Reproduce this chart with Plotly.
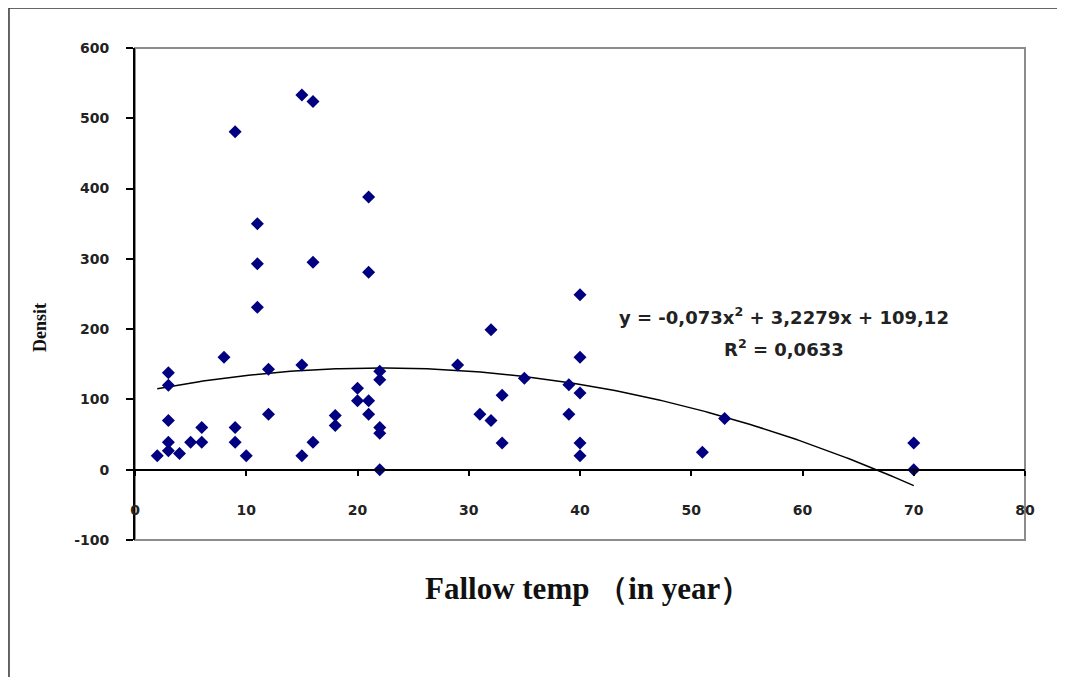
import numpy as np
import plotly.graph_objects as go

# Data
fallow_years = [2, 3, 3, 3, 3, 3, 4, 5, 6, 6, 8, 9, 9, 9, 10, 11, 11, 11, 12, 12,
                15, 15, 15, 16, 16, 16, 18, 18, 20, 20, 21, 21, 21, 21, 22, 22, 22, 22, 22,
                29, 31, 32, 32, 33, 33, 35, 39, 39, 40, 40, 40, 40, 40, 51, 53, 70, 70]
density = [20, 138, 120, 70, 39, 27, 23, 39, 60, 39, 160, 481, 60, 39, 20, 350, 293, 231, 143, 79,
           533, 149, 20, 524, 295, 39, 77, 63, 116, 98, 388, 281, 98, 79, 140, 128, 60, 52, 0,
           149, 79, 199, 70, 106, 38, 130, 121, 79, 249, 160, 109, 38, 20, 25, 73, 38, 0]

# Polynomial trendline coefficients as printed on the chart
trend_coeffs = [-0.073, 3.2279, 109.12]
r_squared_text = "0,0633"

x_ticks = [0, 10, 20, 30, 40, 50, 60, 70, 80]
y_ticks = [-100, 0, 100, 200, 300, 400, 500, 600]
y_tick_labels = ["-100", "0", "100", "200", "300", "400", "500", "600"]

trend_x = np.linspace(min(fallow_years), max(fallow_years), 200)
trend_y = np.polyval(trend_coeffs, trend_x)

fig = go.Figure()
fig.add_trace(go.Scatter(
    x=trend_x, y=trend_y, mode="lines",
    line=dict(color="black", width=1.5), hoverinfo="skip", showlegend=False))
fig.add_trace(go.Scatter(
    x=fallow_years, y=density, mode="markers",
    marker=dict(symbol="diamond", size=10, color="#000080"),
    showlegend=False))

tick_font = dict(family="DejaVu Sans", size=14, color="#222222", weight="bold")
eq_font = dict(family="DejaVu Sans", size=18, color="#222222", weight="bold")

# plot area sits at screen x 135..1025, y 48..540 (page has 8px offset)
fig.update_layout(
    width=1065, height=677,
    margin=dict(l=127, r=48, t=40, b=145),
    paper_bgcolor="white", plot_bgcolor="white",
    xaxis=dict(range=[0, 80], tickvals=x_ticks, anchor="free", position=1/7,
               showline=True, linecolor="black", linewidth=2,
               ticks="outside", ticklen=5, tickwidth=1.5, tickcolor="black",
               ticklabelstandoff=22, tickfont=tick_font,
               showgrid=False, zeroline=False),
    yaxis=dict(range=[-100, 600], tickvals=y_ticks, ticktext=y_tick_labels,
               showline=True, linecolor="black", linewidth=2,
               ticks="outside", ticklen=7, tickwidth=1.5, tickcolor="black",
               ticklabelstandoff=14, tickfont=tick_font,
               showgrid=False, zeroline=False),
    shapes=[
        dict(type="rect", xref="paper", yref="paper", x0=0, y0=0, x1=1, y1=1,
             line=dict(color="#8c8c8c", width=2), layer="below"),
        dict(type="line", xref="paper", yref="paper", x0=-0.1416, y0=1.0813,
             x1=-0.1416, y1=-0.30, line=dict(color="#333333", width=1.5)),
        dict(type="line", xref="paper", yref="paper", x0=-0.1416, y0=1.0813,
             x1=1.08, y1=1.0813, line=dict(color="#333333", width=1.5)),
    ],
    annotations=[
        dict(text="y = -0,073x<sup>2</sup> + 3,2279x + 109,12",
             x=(784 - 135) / 890, y=(540 - 316) / 492, xref="paper", yref="paper",
             showarrow=False, xanchor="center", yanchor="middle", font=eq_font),
        dict(text="R<sup>2</sup> = " + r_squared_text,
             x=(784 - 135) / 890, y=(540 - 348) / 492, xref="paper", yref="paper",
             showarrow=False, xanchor="center", yanchor="middle", font=eq_font),
        dict(text="Fallow temp （in year）",
             x=(588 - 135) / 890, y=(540 - 588) / 492, xref="paper", yref="paper",
             showarrow=False, xanchor="center", yanchor="middle",
             font=dict(family="Liberation Serif", size=31, color="#111111", weight="bold")),
        dict(text="Densit", textangle=-90,
             x=(40 - 135) / 890, y=(540 - 328) / 492, xref="paper", yref="paper",
             showarrow=False, xanchor="center", yanchor="middle",
             font=dict(family="Liberation Serif", size=18, color="#111111", weight="bold")),
    ],
)

fig.write_html("out.html")
